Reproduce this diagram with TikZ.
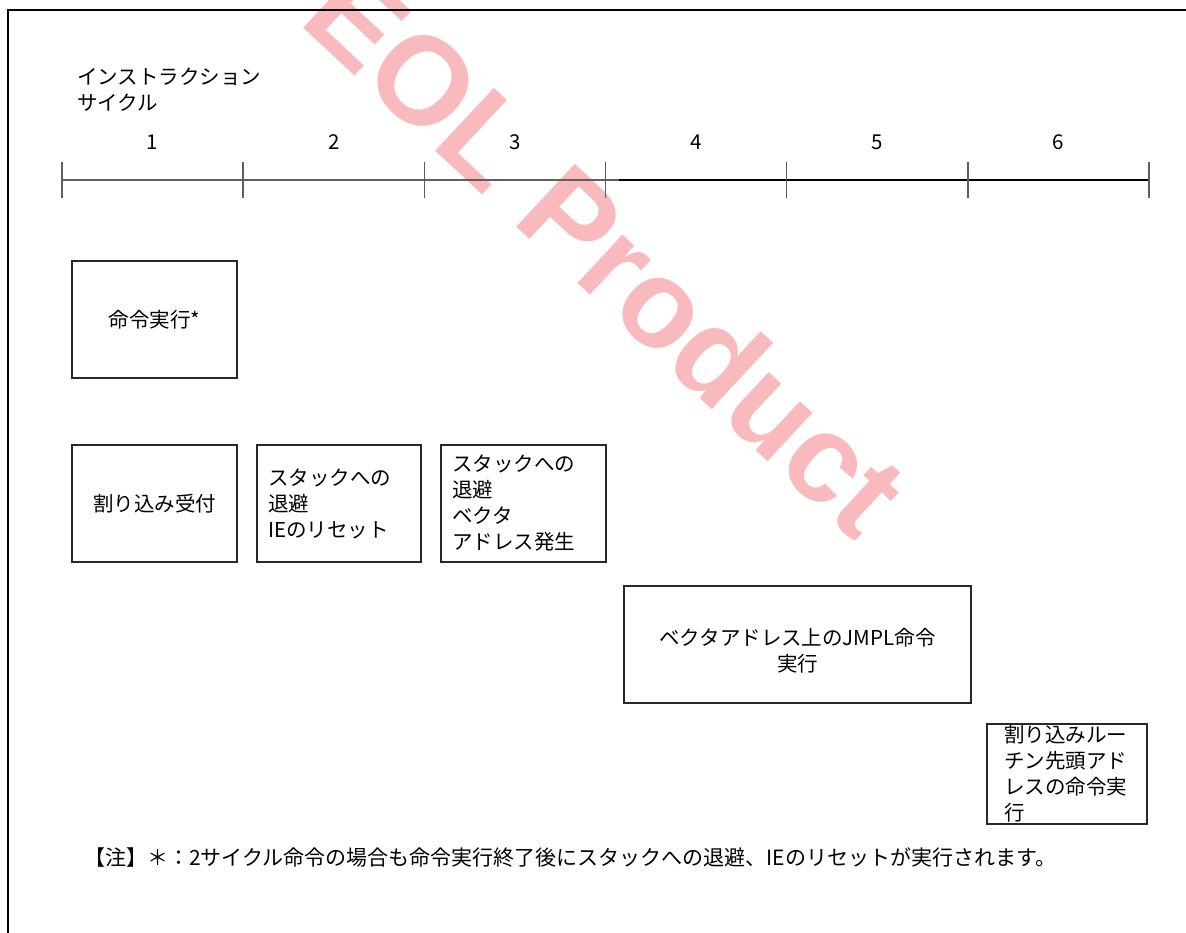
\documentclass[tikz,border=0pt]{standalone}
\usepackage{fontspec}
\setmainfont{Noto Sans CJK JP}
\newfontfamily\wmfont{Liberation Sans}
\definecolor{wm}{RGB}{249,186,189}
\definecolor{tl}{RGB}{95,95,95}
\definecolor{bx}{RGB}{40,40,40}
\begin{document}
\begin{tikzpicture}[x=1pt,y=-1pt,
  box/.style={draw=bx, line width=1.2pt, inner sep=0pt},
  lbl/.style={font=\fontsize{20.5}{26}\selectfont, inner sep=0pt},
  tick/.style={draw=tl, line width=1.6pt},
  wmark/.style={text=wm, inner sep=0pt, font=\wmfont\bfseries\fontsize{125}{125}\selectfont}]
\useasboundingbox (0,0) rectangle (1186,933);
\fill[white] (0,0) rectangle (1186,933);
\begin{scope}
\clip (0,0) rectangle (1186,933);
\node[wmark, rotate=-43] (wm) at (607,250) {EOL Product};
\end{scope}
% frame
\draw[line width=2.5pt] (8,940) -- (8,10) -- (1190,10);
% title
\node[lbl, anchor=west, align=left] (title) at (77,90) {インストラクション\\サイクル};
% timeline
\foreach \i in {0,...,6} {
  \coordinate (t\i) at ({62+181.17*\i},180);
  \coordinate (u\i) at ({62+181.17*\i},162);
  \coordinate (d\i) at ({62+181.17*\i},198);
}
\coordinate (tm) at (619,180);
\draw[tl, line width=2pt] (t0) -- (tm);
\draw[black, line width=2pt] (tm) -- (t6);
\foreach \i in {0,...,6} { \draw[tick] (u\i) -- (d\i); }
\foreach \i in {1,...,6} {
  \node[lbl] (c\i) at ({62+181.17*(\i-0.5)},142) {\i};
}
% boxes
\node[box, lbl, draw=bx, minimum width=165, minimum height=117] (exec) at (154.5,319.5) {命令実行*};
\node[box, lbl, draw=bx, minimum width=165, minimum height=117] (accept) at (154.5,503.5) {割り込み受付};
\node[box, lbl, draw=bx, minimum width=164, minimum height=117, text width=142, inner xsep=11, align=left] (save) at (339,503.5) {スタックへの\\退避\\IEのリセット};
\node[box, lbl, draw=bx, minimum width=165, minimum height=117, text width=143, inner xsep=11, align=left] (vec) at (523.5,503.5) {スタックへの\\退避\\ベクタ\\アドレス発生};
\node[box, minimum width=347, minimum height=117] (jmpl) at (797.5,644.5) {};
\node[lbl, align=center] (jmpltxt) at (797.5,651) {ベクタアドレス上のJMPL命令\\実行};
\node[box, lbl, draw=bx, minimum width=160, minimum height=100, text width=126, inner xsep=17, align=left] (isr) at (1067,774) {割り込みルー\\チン先頭アド\\レスの命令実\\行};
% note
\node[font=\fontsize{21}{26}\selectfont, inner sep=0pt, anchor=west] (note) at (84,858) {【注】＊：2サイクル命令の場合も命令実行終了後にスタックへの退避、IEのリセットが実行されます。};
\end{tikzpicture}
\end{document}
